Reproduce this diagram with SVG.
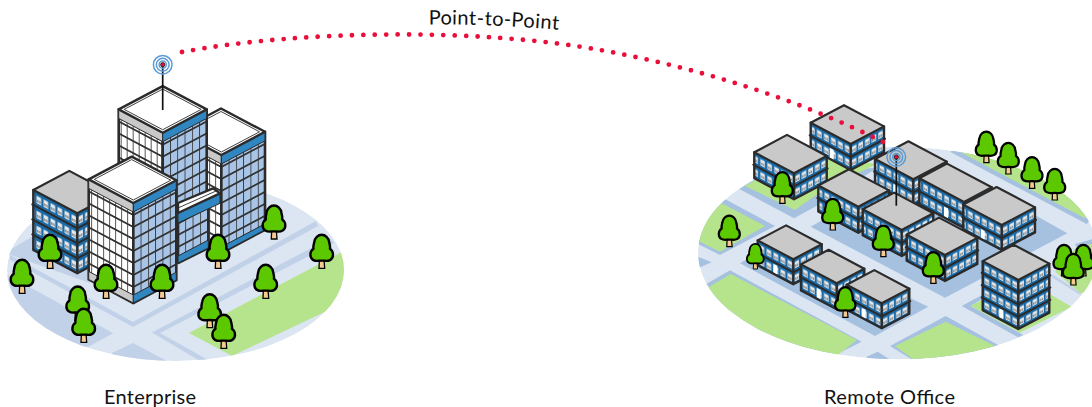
<svg xmlns="http://www.w3.org/2000/svg" width="1092" height="407" viewBox="0 0 1092 407">
<style>
.lb{font-family:"Lato","Noto Sans",sans-serif;font-size:20px;fill:#111}
.gl{fill:#dce6f2}.gd{fill:#c1d1e8}.gd2{fill:#a6c1e0}.gg{fill:#b6e48c}
.o{stroke:#2b2b2b;stroke-width:2.2;stroke-linejoin:round;stroke-linecap:round}
.l{fill:url(#wl)}.r{fill:url(#wr)}.l12{fill:url(#wl12)}.r12{fill:url(#wr12)}.l15{fill:url(#wl15)}.r15{fill:url(#wr15)}
.t{fill:#c9c9c9}
.f{fill:none;stroke:#2b2b2b;stroke-width:2;stroke-linecap:round;stroke-linejoin:round}
.e{fill:none;stroke:#2b2b2b;stroke-width:2.4;stroke-linecap:round;stroke-linejoin:round}
.twl{fill:url(#tl);stroke:#2b2b2b;stroke-width:2.6;stroke-linejoin:round}
.twr{fill:url(#tr);stroke:#2b2b2b;stroke-width:2.6;stroke-linejoin:round}
.bg{fill:#c9c9c9;stroke:#2b2b2b;stroke-width:1;stroke-linejoin:round}
.bb{fill:#2f86c0;stroke:#2b2b2b;stroke-width:1;stroke-linejoin:round}
.rf{fill:#fff;stroke:#2b2b2b;stroke-width:2.4;stroke-linejoin:round}
.ri{fill:none;stroke:#2b2b2b;stroke-width:.9;stroke-linejoin:round}
.ant{stroke:#111;stroke-width:1.7;fill:none}
.ring{fill:none;stroke:#5b9bd5;stroke-width:1.5}
.tip{fill:#e8103a;stroke:#111;stroke-width:.8}
.link{fill:none;stroke:#e8103a;stroke-width:4.8;stroke-linecap:round;stroke-dasharray:0 11.4}
.foliage{fill:#5cc800;stroke:#000;stroke-width:2.4;stroke-linejoin:round}
.trunk{fill:#f6c98e;stroke:#000;stroke-width:1.3}
</style>
<defs>
<pattern id="wl" width="7" height="13" patternUnits="userSpaceOnUse" patternTransform="matrix(1,.53,0,1,0,0)">
<rect width="7" height="13" fill="#1b6aa5"/><rect x="1.3" y="3.5" width="4.6" height="6.4" fill="#e6e9ec"/><path d="M2.1,8.8V6.6h.9V9zM4,8.8V6.6h.9V9z" fill="#555"/>
</pattern>
<pattern id="wr" width="6.6" height="13" patternUnits="userSpaceOnUse" patternTransform="matrix(1,-.53,0,1,0,0)">
<rect width="6.6" height="13" fill="#1b6aa5"/><rect x="1.1" y="3.5" width="4.6" height="6.4" fill="#e6e9ec"/><path d="M1.9,8.8V6.6h.9V9zM3.8,8.8V6.6h.9V9z" fill="#555"/>
</pattern>
<pattern id="wl12" href="#wl" patternTransform="matrix(1,.53,0,.942,0,0)"/>
<pattern id="wr12" href="#wr" patternTransform="matrix(1,-.53,0,.942,0,0)"/>
<pattern id="wl15" href="#wl" patternTransform="matrix(1,.53,0,1.154,0,0)"/>
<pattern id="wr15" href="#wr" patternTransform="matrix(1,-.53,0,1.154,0,0)"/>
<pattern id="tl" width="6" height="12" patternUnits="userSpaceOnUse" patternTransform="matrix(1,.53,0,1,0,0)">
<rect width="6" height="12" fill="#fff"/><path d="M0,0V12" stroke="#333" stroke-width="1.7"/><path d="M0,0H6M0,12H6" stroke="#333" stroke-width="1.8"/>
</pattern>
<pattern id="tr" width="7.3" height="12" patternUnits="userSpaceOnUse" patternTransform="matrix(1,-.53,0,1,0,0)">
<rect width="7.3" height="12" fill="#a8c4e6"/><path d="M0,0V12" stroke="#333" stroke-width="1.7"/><path d="M0,0H7.3M0,12H7.3" stroke="#333" stroke-width="1.8"/>
</pattern>
<clipPath id="ce"><ellipse cx="175.5" cy="270" rx="168.5" ry="91"/></clipPath>
<clipPath id="cr"><ellipse cx="898" cy="253" rx="200" ry="106.3"/></clipPath>
<g id="tree">
<path class="trunk" d="M-2.3,-9H2.3L3,0H-2.7Z"/>
<path class="foliage" d="M-3,-7.5C-7,-7-11.3-8.5-11.3-13.5C-11.3-16.5-9.8-18.5-8.2-19.5C-8.8-22-7.8-24-7.5-26C-7-30.5-3.5-33.5 0-33.5C3.5-33.5 7-30.5 7.5-26C7.8-24 8.8-22 8.2-19.5C9.8-18.5 11.3-16.5 11.3-13.5C11.3-8.5 7-7 3-7.5C1-7.7-1-7.7-3-7.5Z"/>
</g>
<path id="door" d="M-2,2h4v10h-4z" fill="#fff"/>
<g id="signal">
<circle class="ring" r="9.3"/><circle class="ring" r="6.4"/><circle class="ring" r="3.6"/><circle class="tip" r="2.1"/>
</g>
<path id="arc-label" d="M429,24.5Q490,24 559,29.8"/>
</defs>

<g id="enterprise">
<g id="enterprise-ground" clip-path="url(#ce)">
<ellipse class="gl" cx="175.5" cy="270" rx="168.5" ry="91"/>
<path class="gd" d="M0,270.6L113.3,333.3L88.3,346.7L0,350Z"/>
<path class="gd" d="M5,253L35,235L90,262V283Z"/>
<path class="gd" d="M10,255L133,322L316,221L318,226L133,327L10,260Z"/>
<path class="gd" d="M112,353L133,343L167,361H112Z"/>
<path class="gd" d="M152,332.5L330,238L334,243L160,333L210,361H200Z"/>
<path class="gg" d="M189,333L340,253L350,250V300L232,356Z"/>
</g>
<g id="tower-c" transform="translate(221.3 155)">
<path class="twl" d="M-44,-23.3L0,0V98L-44,74.7Z"/>
<path class="twr" d="M43.7,-23.2L0,0V98L43.7,74.8Z"/>
<path class="bg" d="M-44,-23.3L0,0V9L-44,-14.3Z"/>
<path class="bb" d="M43.7,-23.2L0,0V9L43.7,-14.2Z"/>
<path class="bb" d="M43.7,68.8L0,92V98L43.7,74.8Z"/>
<path class="rf" d="M0,0L-44,-23.3L-.3,-46.5L43.7,-23.2Z"/>
<path class="ri" d="M0,-3L-38.5,-23.3L-.3,-43.5L38.2,-23.2Z"/>
</g>
<g id="tower-a" transform="translate(162.7 132.7)">
<path class="twl" d="M-44,-23.3L0,0V110L-44,86.7Z"/>
<path class="twr" d="M44,-23.3L0,0V110L44,86.7Z"/>
<path class="bg" d="M-44,-23.3L0,0V9L-44,-14.3Z"/>
<path class="bb" d="M44,-23.3L0,0V9L44,-14.3Z"/>
<path class="rf" d="M0,0L-44,-23.3L0,-46.6L44,-23.3Z"/>
<path class="ri" d="M0,-3L-38.5,-23.3L0,-43.6L38.5,-23.3Z"/>
</g>
<g id="bridge" transform="translate(178 223)">
<path class="twr" d="M0,0L30.3,-16.1V25L0,40Z"/>
<path class="bb" d="M0,33L30.3,17V25L0,40Z"/>
<path class="bb" d="M0,-10L42,-29.7V-19.7L0,0Z"/>
<path class="rf" d="M0,-20L35,-34.7L42,-29.7L0,-10Z"/>
<path class="ri" d="M0,-15L38,-32"/>
</g>
<g id="block-d" transform="translate(77.3 213.3)">
<path class="l15" d="M-44,-23.3L0,0V60L-44,36.7Z"/>
<path class="r15" d="M36,-19.1L0,0V60L36,40.9Z"/>
<path class="f" d="M-45,-8.9L0,15L37,-4.6M-45,6.1L0,30L37,10.4M-45,21.1L0,45L37,25.4"/>
<path class="e" d="M-44,-23.3V36.7L0,60L36,40.9M0,0V60"/>
<path class="t o" d="M0,0L-44,-23.3L-8,-42.4L36,-19.1Z"/>
</g>
<g id="tower-b" transform="translate(133.3 203)">
<path class="twl" d="M-44.6,-23.6L0,0V100L-44.6,76.4Z"/>
<path class="twr" d="M43,-22.8L0,0V100L43,77.2Z"/>
<path class="bg" d="M-44.6,-23.6L0,0V9L-44.6,-14.6Z"/>
<path class="bb" d="M43,-22.8L0,0V9L43,-13.8Z"/>
<path class="bg" d="M-44.6,68.4L0,92V100L-44.6,76.4Z"/>
<path class="bb" d="M43,69.2L0,92V100L43,77.2Z"/>
<path class="rf" d="M0,0L-44.6,-23.6L-1.6,-46.4L43,-22.8Z"/>
<path class="ri" d="M0,-3L-39,-23.6L-1.6,-43.4L37.5,-22.8Z"/>
</g>
<g id="enterprise-antenna">
<path class="ant" d="M162.7,65V110"/>
<use href="#signal" x="162.7" y="64.7"/>
</g>
<g id="enterprise-trees">
<use href="#tree" x="22" y="293.3"/><use href="#tree" x="50" y="268.3"/><use href="#tree" x="106" y="298.3"/><use href="#tree" x="162" y="298.3"/><use href="#tree" x="218" y="268.3"/><use href="#tree" x="274" y="239"/><use href="#tree" x="321.7" y="268.3"/><use href="#tree" x="265.7" y="298.3"/><use href="#tree" x="77.7" y="320"/><use href="#tree" x="83.7" y="342.3"/><use href="#tree" x="209.7" y="327.7"/><use href="#tree" x="223.7" y="348.3"/>
</g>
</g>

<g id="remote-office">
<g id="remote-ground" clip-path="url(#cr)">
<ellipse class="gl" cx="898" cy="253" rx="200" ry="106.3"/>
<g transform="translate(690 90) scale(.33333)">
<path class="gd2" d="M148,297L250,235H560L385,345L312,385Z"/>
<path class="gg" d="M165,288L250,240L440,205L560,222L400,300L315,360Z"/>
<path class="gd2" d="M100,325L255,408L90,495L0,450V380Z"/>
<path class="gg" d="M92,338L225,408L90,485L0,440V380Z"/>
<path class="gd2" d="M0,490L65,517L0,545Z"/>
<path class="gd2" d="M0,610L120,541L515,755L425,800L0,830Z"/>
<path class="gg" d="M0,625L122,552L500,750L400,830L0,830Z"/>
<path class="gd2" d="M600,768L767,678L930,768L700,830Z"/>
<path class="gg" d="M615,768L767,695L915,768L700,830Z"/>
<path class="gd2" d="M530,800L563,785L610,815H530Z"/>
<path class="gd2" d="M362,410L440,365L700,300L1040,378L1132,430L765,623Z"/>
<path class="gd2" d="M150,520L200,490L400,500L715,650L555,738Z"/>
<path class="gd2" d="M815,648L880,613V625L842,648L1000,735L985,742Z"/>
<path class="gg" d="M842,648L1020,550L1075,610L1145,650L990,728Z"/>
<path class="gd2" d="M1155,462L1206,448V463L1160,472Z"/>
<path class="gd" d="M1088,553L1172,608V616L1085,562Z"/>
<path class="gg" d="M1095,545L1160,470L1206,462V600L1172,610Z"/>
<path class="gd2" d="M780,185L810,175L1220,365L1190,402Z"/>
<path class="gg" d="M805,183L870,160L1220,340L1185,385Z"/>
</g>
</g>
<g id="r1" transform="translate(850.7 144)"><path class="l" d="M-40,-21.2L0,0V26L-40,4.8Z"/><path class="r" d="M33.3,-17.6L0,0V26L33.3,8.4Z"/><use href="#door" transform="translate(-19 2.9) skewY(27.9)"/><path class="f" d="M-41,-8.7L0,13L34.3,-5.2"/><path class="e" d="M-40,-21.2V4.8L0,26L33.3,8.4V-17.6M0,0V26"/><path class="t o" d="M0,0L-40,-21.2L-6.7,-38.8L33.3,-17.6Z"/></g>
<g id="r2" transform="translate(794 173.3)"><path class="l" d="M-39.7,-21L0,0V26L-39.7,5Z"/><path class="r" d="M32.7,-17.3L0,0V26L32.7,8.7Z"/><path class="f" d="M-40.7,-8.6L0,13L33.7,-4.9"/><path class="e" d="M-39.7,-21V5L0,26L32.7,8.7V-17.3M0,0V26"/><path class="t o" d="M0,0L-39.7,-21L-7,-38.4L32.7,-17.3Z"/></g>
<g id="r3" transform="translate(913.3 179.3)"><path class="l" d="M-38.3,-20.3L0,0V26L-38.3,5.7Z"/><path class="r" d="M33.4,-17.7L0,0V26L33.4,8.3Z"/><use href="#door" transform="translate(-18 3.5) skewY(27.9)"/><path class="f" d="M-39.3,-7.8L0,13L34.4,-5.2"/><path class="e" d="M-38.3,-20.3V5.7L0,26L33.4,8.3V-17.7M0,0V26"/><path class="t o" d="M0,0L-38.3,-20.3L-4.9,-38L33.4,-17.7Z"/></g>
<g id="r4" transform="translate(964 202)"><path class="l" d="M-44.7,-23.7L0,0V26L-44.7,2.3Z"/><path class="r" d="M27.7,-14.7L0,0V26L27.7,11.3Z"/><use href="#door" transform="translate(-18 3.5) skewY(27.9)"/><path class="f" d="M-45.7,-11.2L0,13L28.7,-2.2"/><path class="e" d="M-44.7,-23.7V2.3L0,26L27.7,11.3V-14.7M0,0V26"/><path class="t o" d="M0,0L-44.7,-23.7L-17,-38.4L27.7,-14.7Z"/></g>
<g id="r6" transform="translate(858.3 206.7)"><path class="l" d="M-40,-21.2L0,0V26L-40,4.8Z"/><path class="r" d="M30.7,-16.3L0,0V26L30.7,9.7Z"/><path class="f" d="M-41,-8.7L0,13L31.7,-3.8"/><path class="e" d="M-40,-21.2V4.8L0,26L30.7,9.7V-16.3M0,0V26"/><path class="t o" d="M0,0L-40,-21.2L-9.3,-37.5L30.7,-16.3Z"/></g>
<g id="r5" transform="translate(1001.7 225)"><path class="l" d="M-38.4,-20.4L0,0V25L-38.4,4.6Z"/><path class="r" d="M33.3,-17.6L0,0V25L33.3,7.4Z"/><use href="#door" transform="translate(-19 2.9) skewY(27.9)"/><path class="f" d="M-39.4,-7.9L0,13L34.3,-5.2"/><path class="e" d="M-38.4,-20.4V4.6L0,25L33.3,7.4V-17.6M0,0V25"/><path class="t o" d="M0,0L-38.4,-20.4L-5.1,-38L33.3,-17.6Z"/></g>
<g id="r7" transform="translate(901.7 230)"><path class="l" d="M-39,-20.7L0,0V26L-39,5.3Z"/><path class="r" d="M31.6,-16.7L0,0V26L31.6,9.3Z"/><path class="f" d="M-40,-8.2L0,13L32.6,-4.3"/><path class="e" d="M-39,-20.7V5.3L0,26L31.6,9.3V-16.7M0,0V26"/><path class="t o" d="M0,0L-39,-20.7L-7.4,-37.4L31.6,-16.7Z"/></g>
<g id="r8" transform="translate(945 255)"><path class="l" d="M-38.3,-20.3L0,0V26L-38.3,5.7Z"/><path class="r" d="M32.3,-17.1L0,0V26L32.3,8.9Z"/><path class="f" d="M-39.3,-7.8L0,13L33.3,-4.6"/><path class="e" d="M-38.3,-20.3V5.7L0,26L32.3,8.9V-17.1M0,0V26"/><path class="t o" d="M0,0L-38.3,-20.3L-6,-37.4L32.3,-17.1Z"/></g>
<g id="r10" transform="translate(793.3 259.3)"><path class="l" d="M-35.6,-18.9L0,0V25L-35.6,6.1Z"/><path class="r" d="M28.4,-15.1L0,0V25L28.4,9.9Z"/><use href="#door" transform="translate(-18 3.5) skewY(27.9)"/><path class="f" d="M-36.6,-6.4L0,13L29.4,-2.6"/><path class="e" d="M-35.6,-18.9V6.1L0,25L28.4,9.9V-15.1M0,0V25"/><path class="t o" d="M0,0L-35.6,-18.9L-7.2,-33.9L28.4,-15.1Z"/></g>
<g id="r9" transform="translate(1018.3 280)"><path class="l12" d="M-35.6,-18.9L0,0V49L-35.6,30.1Z"/><path class="r12" d="M31,-16.4L0,0V49L31,32.6Z"/><use href="#door" transform="translate(-17 27.5) skewY(27.9) scale(1 .9)"/><path class="f" d="M-36.6,-7.1L0,12.25L32,-4.7M-36.6,5.1L0,24.5L32,7.5M-36.6,17.4L0,36.75L32,19.8"/><path class="e" d="M-35.6,-18.9V30.1L0,49L31,32.6V-16.4M0,0V49"/><path class="t o" d="M0,0L-35.6,-18.9L-4.6,-35.3L31,-16.4Z"/></g>
<g id="r11" transform="translate(836.7 283.3)"><path class="l" d="M-35.7,-18.9L0,0V26L-35.7,7.1Z"/><path class="r" d="M27.6,-14.6L0,0V26L27.6,11.4Z"/><use href="#door" transform="translate(-18 3.5) skewY(27.9)"/><path class="f" d="M-36.7,-6.4L0,13L28.6,-2.2"/><path class="e" d="M-35.7,-18.9V7.1L0,26L27.6,11.4V-14.6M0,0V26"/><path class="t o" d="M0,0L-35.7,-18.9L-8.1,-33.5L27.6,-14.6Z"/></g>
<g id="r12" transform="translate(881.7 303.3)"><path class="l" d="M-35,-18.6L0,0V25L-35,6.4Z"/><path class="r" d="M27.6,-14.6L0,0V25L27.6,10.4Z"/><use href="#door" transform="translate(-18 3.5) skewY(27.9)"/><path class="f" d="M-36,-6.1L0,13L28.6,-2.2"/><path class="e" d="M-35,-18.6V6.4L0,25L27.6,10.4V-14.6M0,0V25"/><path class="t o" d="M0,0L-35,-18.6L-7.4,-33.2L27.6,-14.6Z"/></g>
<g id="remote-antenna">
<path class="ant" d="M896.3,157V205.7"/>
<use href="#signal" x="896.3" y="157"/>
</g>
<g id="remote-trees">
<use href="#tree" transform="translate(729.3 246.7) scale(.93)"/><use href="#tree" transform="translate(782.3 203.3) scale(.93)"/><use href="#tree" transform="translate(832.7 230) scale(.93)"/><use href="#tree" transform="translate(883.3 256.7) scale(.93)"/><use href="#tree" transform="translate(933.3 283.3) scale(.93)"/><use href="#tree" transform="translate(986.3 162.7) scale(.93)"/><use href="#tree" transform="translate(1008.3 174) scale(.93)"/><use href="#tree" transform="translate(1032 188.3) scale(.93)"/><use href="#tree" transform="translate(1054.7 200) scale(.93)"/><use href="#tree" transform="translate(755.3 269) scale(.75)"/><use href="#tree" transform="translate(845.3 317.3) scale(.9)"/><use href="#tree" transform="translate(1064 276) scale(.93)"/><use href="#tree" transform="translate(1083.3 276) scale(.93)"/><use href="#tree" transform="translate(1073.3 285) scale(.93)"/>
</g>
</g>

<g id="connectors">
<path id="point-to-point-link" class="link" d="M182,52C300,30 480,28 600,50C700,68 800,100 885,143"/>
</g>
<g id="labels">
<text class="lb" textLength="130"><textPath href="#arc-label">Point-to-Point</textPath></text>
<text class="lb" x="104" y="403.5" textLength="92">Enterprise</text>
<text class="lb" x="824" y="403.5" textLength="131">Remote Office</text>
</g>
</svg>
